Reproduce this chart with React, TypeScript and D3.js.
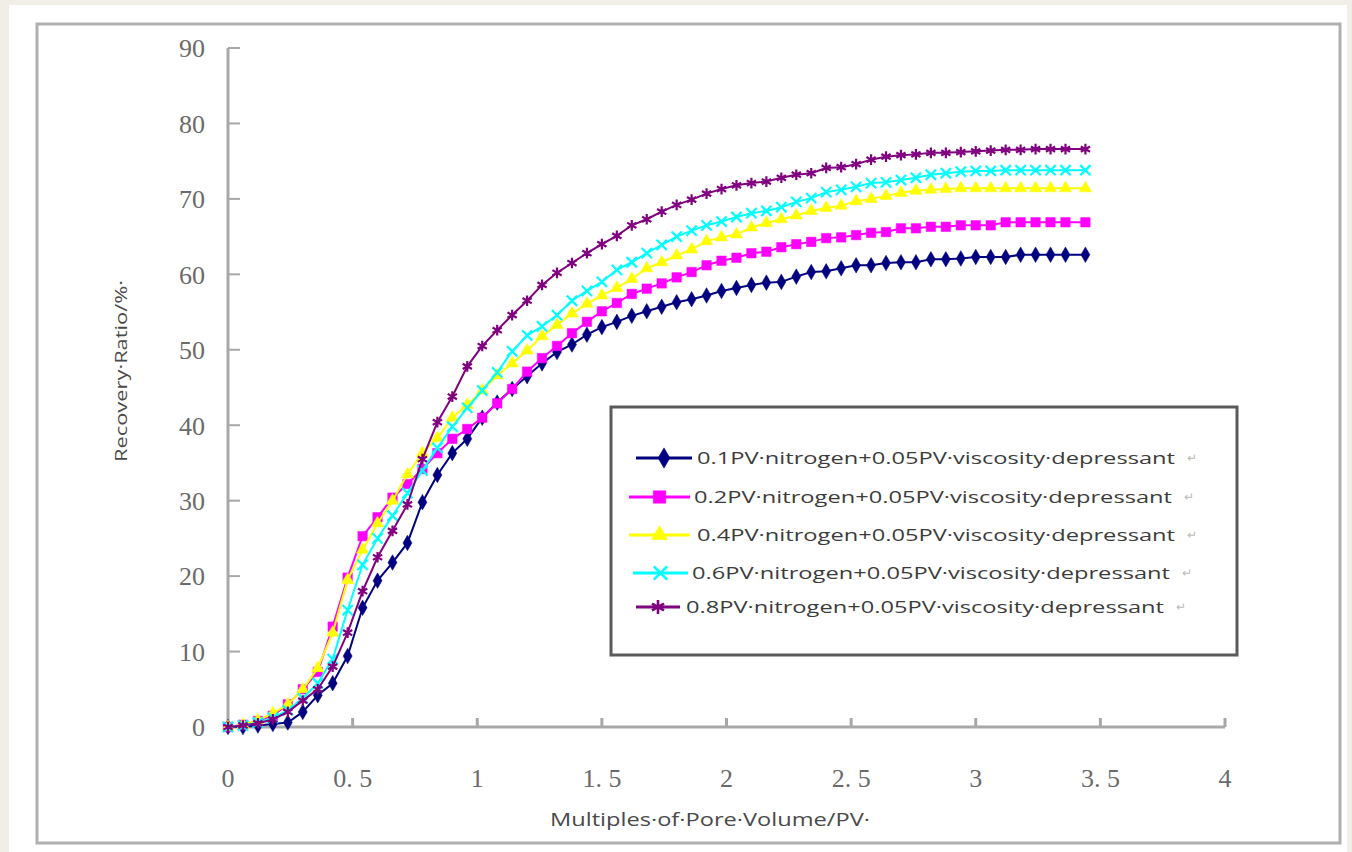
import React from "react";
import * as d3 from "d3";

const pv = [
  0, 0.06, 0.12, 0.18, 0.24, 0.3, 0.36, 0.42, 0.48, 0.54, 0.6, 0.66, 0.72, 0.78, 0.84, 0.9, 0.96, 1.02, 1.08, 1.14,
  1.2, 1.26, 1.32, 1.38, 1.44, 1.5, 1.56, 1.62, 1.68, 1.74, 1.8, 1.86, 1.92, 1.98, 2.04, 2.1, 2.16, 2.22, 2.28, 2.34,
  2.4, 2.46, 2.52, 2.58, 2.64, 2.7, 2.76, 2.82, 2.88, 2.94, 3.0, 3.06, 3.12, 3.18, 3.24, 3.3, 3.36, 3.44,
];

const s01 = [
  0, 0, 0.2, 0.4, 0.6, 2.0, 4.2, 5.8, 9.4, 15.8, 19.4, 21.8, 24.4, 29.8, 33.4, 36.3, 38.2, 41.0, 43.0, 44.8,
  46.5, 48.2, 49.7, 50.7, 52.0, 53.0, 53.7, 54.5, 55.1, 55.7, 56.3, 56.7, 57.2, 57.8, 58.2, 58.6, 58.9, 59.0, 59.7, 60.3,
  60.4, 60.8, 61.2, 61.2, 61.5, 61.6, 61.6, 62.0, 62.0, 62.1, 62.3, 62.3, 62.3, 62.6, 62.6, 62.6, 62.6, 62.6,
];
const s02 = [
  0, 0.3, 0.8, 1.5, 3.0, 5.0, 7.3, 13.3, 19.8, 25.3, 27.8, 30.4, 32.2, 34.2, 36.3, 38.2, 39.5, 41.0, 42.9, 44.8,
  47.1, 48.9, 50.5, 52.2, 53.7, 55.1, 56.2, 57.4, 58.1, 58.8, 59.6, 60.3, 61.2, 61.8, 62.2, 62.8, 63.0, 63.6, 64.0, 64.3,
  64.8, 64.9, 65.2, 65.5, 65.6, 66.1, 66.1, 66.3, 66.3, 66.5, 66.5, 66.5, 66.9, 66.9, 66.9, 66.9, 66.9, 66.9,
];
const s04 = [
  0, 0.3, 0.9, 1.8, 3.0, 5.0, 7.8, 12.5, 19.5, 23.5, 27.0, 30.0, 33.5, 36.3, 38.3, 41.0, 42.7, 44.6, 46.6, 48.2,
  49.9, 51.8, 53.3, 54.8, 56.1, 57.2, 58.2, 59.4, 60.8, 61.6, 62.5, 63.3, 64.4, 64.9, 65.3, 66.2, 66.8, 67.3, 67.8, 68.4,
  68.8, 69.1, 69.7, 70.0, 70.4, 70.8, 71.1, 71.2, 71.3, 71.4, 71.4, 71.4, 71.4, 71.4, 71.4, 71.4, 71.4, 71.4,
];
const s06 = [
  0, 0.2, 0.6, 1.2, 2.2, 3.8, 5.8, 9.0, 15.5, 21.5, 25.0, 28.0, 31.0, 34.0, 37.0, 39.8, 42.3, 44.6, 47.0, 49.8,
  51.9, 53.1, 54.6, 56.5, 57.8, 59.0, 60.6, 61.6, 62.8, 63.9, 65.0, 65.8, 66.5, 67.0, 67.6, 68.1, 68.4, 68.9, 69.6, 70.1,
  70.9, 71.2, 71.6, 72.1, 72.2, 72.5, 72.8, 73.2, 73.4, 73.6, 73.7, 73.7, 73.8, 73.8, 73.8, 73.8, 73.8, 73.8,
];
const s08 = [
  0, 0.2, 0.5, 1.0, 2.0, 3.5, 5.0, 8.0, 12.5, 18.0, 22.5, 26.0, 29.5, 35.5, 40.4, 43.8, 47.8, 50.5, 52.6, 54.6,
  56.5, 58.6, 60.2, 61.5, 62.8, 64.0, 65.1, 66.5, 67.3, 68.3, 69.2, 69.9, 70.7, 71.3, 71.8, 72.1, 72.3, 72.8, 73.2, 73.4,
  74.1, 74.2, 74.6, 75.2, 75.6, 75.8, 75.9, 76.1, 76.1, 76.2, 76.3, 76.4, 76.5, 76.5, 76.6, 76.6, 76.6, 76.6,
];

const seriesNames = [
  "0.1PV·nitrogen+0.05PV·viscosity·depressant",
  "0.2PV·nitrogen+0.05PV·viscosity·depressant",
  "0.4PV·nitrogen+0.05PV·viscosity·depressant",
  "0.6PV·nitrogen+0.05PV·viscosity·depressant",
  "0.8PV·nitrogen+0.05PV·viscosity·depressant",
];
const seriesValues = [s01, s02, s04, s06, s08];
const seriesColors = ["#000080", "#ff00ff", "#ffff00", "#00ffff", "#800080"];
const seriesMarkers = ["diamond", "square", "triangle", "times", "asterisk"];

const xTicks = [0, 0.5, 1, 1.5, 2, 2.5, 3, 3.5, 4];
const xTickLabels = ["0", "0. 5", "1", "1. 5", "2", "2. 5", "3", "3. 5", "4"];
const yTicks = [0, 10, 20, 30, 40, 50, 60, 70, 80, 90];

const xLabel = "Multiples·of·Pore·Volume/PV·";
const yLabel = "Recovery·Ratio/%·";

function markerPath(kind: string): { d: string; filled: boolean } {
  switch (kind) {
    case "diamond":
      return { d: d3.symbol(d3.symbolDiamond, 70)() as string, filled: true };
    case "square":
      return { d: d3.symbol(d3.symbolSquare, 90)() as string, filled: true };
    case "triangle":
      return { d: d3.symbol(d3.symbolTriangle, 65)() as string, filled: true };
    case "times":
      return { d: d3.symbol(d3.symbolTimes, 70)() as string, filled: false };
    default:
      return { d: d3.symbol(d3.symbolAsterisk, 80)() as string, filled: false };
  }
}

export default function App() {
  const W = 1352;
  const H = 852;
  const x = d3.scaleLinear().domain([0, 4]).range([228, 1225]);
  const y = d3.scaleLinear().domain([0, 90]).range([727, 48]);
  const line = d3
    .line<number>()
    .x((_, i) => x(pv[i]))
    .y((v) => y(v));

  const legendY = [458, 497, 535, 573, 607];
  const legendTextX = [697, 694, 697, 692, 686];
  const legendLine = [
    [636, 692],
    [629, 690],
    [629, 690],
    [633, 688],
    [636, 680],
  ];

  return (
    <svg width={W} height={H} style={{ position: "absolute", left: 0, top: 0 }}>
      <rect x={0} y={0} width={W} height={H} fill="#f0eee6" />
      <rect x={9} y={5} width={1338} height={847} fill="#ffffff" />
      <rect x={37} y={24} width={1303} height={819} fill="#ffffff" stroke="#b0b0b0" strokeWidth={3} />

      {/* axes */}
      <line x1={x(0)} x2={x(0)} y1={y(90)} y2={y(0)} stroke="#a8a8a8" strokeWidth={3} />
      <line x1={x(0)} x2={x(4)} y1={y(0)} y2={y(0)} stroke="#a8a8a8" strokeWidth={3} />
      {yTicks.map((t) => (
        <g key={"yt" + t}>
          <line x1={x(0)} x2={x(0) + 12} y1={y(t)} y2={y(t)} stroke="#a8a8a8" strokeWidth={2} />
          <text
            x={205}
            y={y(t)}
            dy="0.36em"
            textAnchor="end"
            fontFamily="'Liberation Serif', serif"
            fontSize={26}
            fill="#6a6a6a"
          >
            {t}
          </text>
        </g>
      ))}
      {xTicks.map((t, i) => (
        <g key={"xt" + t}>
          {i > 0 && <line x1={x(t)} x2={x(t)} y1={y(0)} y2={y(0) - 9} stroke="#a8a8a8" strokeWidth={3} />}
          <text
            x={x(t)}
            y={787}
            textAnchor="middle"
            fontFamily="'Liberation Serif', serif"
            fontSize={26}
            fill="#6a6a6a"
          >
            {xTickLabels[i]}
          </text>
        </g>
      ))}

      <text
        x={550}
        y={826}
        fontFamily="'Open Sans', sans-serif"
        fontSize={18}
        fill="#4a4a4a"
        textLength={320}
        lengthAdjust="spacingAndGlyphs"
      >
        {xLabel}
      </text>
      <text
        transform={`translate(127,462) rotate(-90)`}
        fontFamily="'Open Sans', sans-serif"
        fontSize={17}
        fill="#4a4a4a"
        textLength={182}
        lengthAdjust="spacingAndGlyphs"
      >
        {yLabel}
      </text>

      {/* series */}
      {seriesValues.map((vals, si) => {
        const m = markerPath(seriesMarkers[si]);
        return (
          <g key={"s" + si}>
            <path d={line(vals) as string} fill="none" stroke={seriesColors[si]} strokeWidth={2} />
            {vals.map((v, i) => (
              <path
                key={i}
                d={m.d}
                transform={`translate(${x(pv[i])},${y(v)})`}
                fill={m.filled ? seriesColors[si] : "none"}
                stroke={seriesColors[si]}
                strokeWidth={m.filled ? 0.5 : 2.2}
              />
            ))}
          </g>
        );
      })}

      {/* legend */}
      <rect x={611} y={407} width={626} height={248} fill="#ffffff" stroke="#5a5a5a" strokeWidth={3} />
      {seriesNames.map((name, si) => {
        const m = markerPath(seriesMarkers[si]);
        const ly = legendY[si];
        const [lx1, lx2] = legendLine[si];
        return (
          <g key={"lg" + si}>
            <line x1={lx1} x2={lx2} y1={ly} y2={ly} stroke={seriesColors[si]} strokeWidth={3} />
            <path
              d={m.d}
              transform={`translate(${(lx1 + lx2) / 2},${ly}) scale(1.3)`}
              fill={m.filled ? seriesColors[si] : "none"}
              stroke={seriesColors[si]}
              strokeWidth={m.filled ? 0.5 : 2}
            />
            <text
              x={legendTextX[si]}
              y={ly}
              dy="0.35em"
              fontFamily="'Open Sans', sans-serif"
              fontSize={17}
              fill="#3c3c3c"
              textLength={478}
              lengthAdjust="spacingAndGlyphs"
            >
              {name}
            </text>
            <text x={legendTextX[si] + 490} y={ly} dy="0.35em" fontSize={12} fill="#bbbbbb" fontFamily="'Open Sans', sans-serif">
              ↵
            </text>
          </g>
        );
      })}
    </svg>
  );
}
